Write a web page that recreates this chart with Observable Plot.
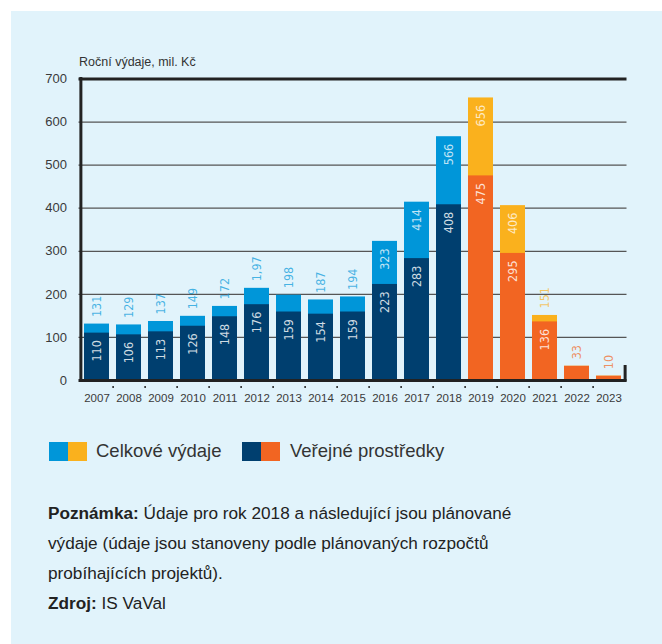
<!DOCTYPE html>
<html><head><meta charset="utf-8">
<script src="https://cdn.jsdelivr.net/npm/d3@7"></script>
<script src="https://cdn.jsdelivr.net/npm/@observablehq/plot@0.6"></script>
<style>
body{margin:0;background:#fff;width:662px;height:644px;position:relative;overflow:hidden;font-family:"Liberation Sans",Arial,sans-serif;color:#2a2a2a;}
#panel{position:absolute;left:11px;top:11px;right:0;bottom:0;background:#e1f3fb;}
#chart{position:absolute;left:0;top:0;}
.sw{position:absolute;top:442px;width:19px;height:19px;}
.lt{position:absolute;top:440px;font-size:18.5px;line-height:22px;color:#333;white-space:nowrap;}
#note{position:absolute;left:48px;top:498px;font-size:17.2px;line-height:30px;color:#222;white-space:nowrap;}
#note b{font-weight:bold;}
</style></head>
<body>
<div id="panel"></div>
<div id="chart"></div>
<div id="legend"></div>
<div id="note"></div>
<script>
const years = ["2007","2008","2009","2010","2011","2012","2013","2014","2015","2016","2017","2018","2019","2020","2021","2022","2023"];
const totals = [131,129,137,149,172,214,198,187,194,323,414,566,656,406,151,33,10];
const publicFunds = [110,106,113,126,148,176,159,154,159,223,283,408,475,295,136,33,10];
const totalLabels = ["131","129","137","149","172","1,97","198","187","194","323","414","566","656","406","151","33","10"];
const plannedFrom = 2019;
const yTicks = [0,100,200,300,400,500,600,700];
const legendLabels = ["Celkové výdaje","Veřejné prostředky"];
const yTitle = "Roční výdaje, mil. Kč";

const C = {lightBlue:"#0096d9", darkBlue:"#003f6f", yellow:"#fab11d", orange:"#f26522"};

const rows = years.map((y,i)=>{
  const planned = +y >= plannedFrom;
  const r = {year:y, total:totals[i], pub:publicFunds[i], label:totalLabels[i]};
  r.light = planned ? C.yellow : C.lightBlue;
  r.dark = planned ? C.orange : C.darkBlue;
  r.totalInside = r.total - r.pub >= 60;
  r.pubInside = r.pub >= 60;
  r.outColor = r.total > r.pub ? r.light : r.dark;
  return r;
});

const W=662, H=410, ML=78.5, MR=35.5, MT=78.5, MB=30;
const step = (W-ML-MR)/years.length;
const frameH = H-MT-MB;
const narrow = "'Liberation Sans Narrow','DejaVu Sans Condensed','Arial Narrow',sans-serif";

const chart = Plot.plot({
  width:W, height:H, marginLeft:ML, marginRight:MR, marginTop:MT, marginBottom:MB,
  style:{background:"transparent", fontFamily:"'Liberation Sans',Arial,sans-serif", color:"#3a3a3a", overflow:"visible"},
  x:{type:"band", domain:years, paddingInner:0.225, paddingOuter:0.1125, align:0.5, axis:null},
  y:{domain:[0,700], axis:null},
  color:{type:"identity"},
  marks:[
    Plot.ruleY(yTicks.filter(v=>v>0&&v<700), {stroke:"#555", strokeWidth:1.2}),
    Plot.barY(rows, {x:"year", y1:0, y2:"total", fill:"light"}),
    Plot.barY(rows, {x:"year", y1:0, y2:"pub", fill:"dark"}),
    Plot.text(rows.filter(r=>r.pubInside), {x:"year", y:"pub", text:d=>String(d.pub), rotate:-90, textAnchor:"end", lineAnchor:"middle", dy:7, fill:"white", fillOpacity:0.82, fontSize:12.5, fontFamily:narrow}),
    Plot.text(rows.filter(r=>r.totalInside), {x:"year", y:"total", text:"label", rotate:-90, textAnchor:"end", lineAnchor:"middle", dy:7, fill:"white", fillOpacity:0.75, fontSize:12.5, fontFamily:narrow}),
    Plot.text(rows.filter(r=>!r.totalInside), {x:"year", y:"total", text:"label", rotate:-90, textAnchor:"start", lineAnchor:"middle", dy:-7, fill:"outColor", fillOpacity:0.7, fontSize:12.5, fontFamily:narrow}),
    Plot.ruleY([700], {stroke:"#222", strokeWidth:3}),
    Plot.ruleY([0], {stroke:"#222", strokeWidth:3}),
    Plot.ruleX([years[0]], {x:d=>d, dx:-step/2, stroke:"#222", strokeWidth:3, insetTop:-1.5, insetBottom:-1.5}),
    Plot.ruleX(years.slice(0,-1), {x:d=>d, dx:step/2, insetTop:frameH-2, dy:8, stroke:"#222", strokeWidth:1.5}),
    Plot.ruleX([years[years.length-1]], {x:d=>d, dx:step/2, insetTop:frameH-15, insetBottom:-1.5, stroke:"#222", strokeWidth:3}),
    Plot.axisY({ticks:yTicks, tickSize:0, tickPadding:12, fontSize:13, label:null}),
    Plot.axisX({tickSize:0, tickPadding:13, fontSize:11.5, label:null}),
    Plot.text([yTitle], {frameAnchor:"top-left", dy:-13.5, lineAnchor:"bottom", textAnchor:"start", fontSize:12.5, fill:"#333"})
  ]
});
document.getElementById("chart").appendChild(chart);

const lg = document.getElementById("legend");
lg.innerHTML =
  `<div class="sw" style="left:49px;background:${C.lightBlue}"></div>`+
  `<div class="sw" style="left:68px;background:${C.yellow}"></div>`+
  `<div class="lt" style="left:96px">${legendLabels[0]}</div>`+
  `<div class="sw" style="left:242px;background:${C.darkBlue}"></div>`+
  `<div class="sw" style="left:261px;background:${C.orange}"></div>`+
  `<div class="lt" style="left:290px">${legendLabels[1]}</div>`;

document.getElementById("note").innerHTML =
  "<b>Poznámka:</b> Údaje pro rok 2018 a následující jsou plánované<br>"+
  "výdaje (údaje jsou stanoveny podle plánovaných rozpočtů<br>"+
  "probíhajících projektů).<br>"+
  "<b>Zdroj:</b> IS VaVal";
</script>
</body></html>
